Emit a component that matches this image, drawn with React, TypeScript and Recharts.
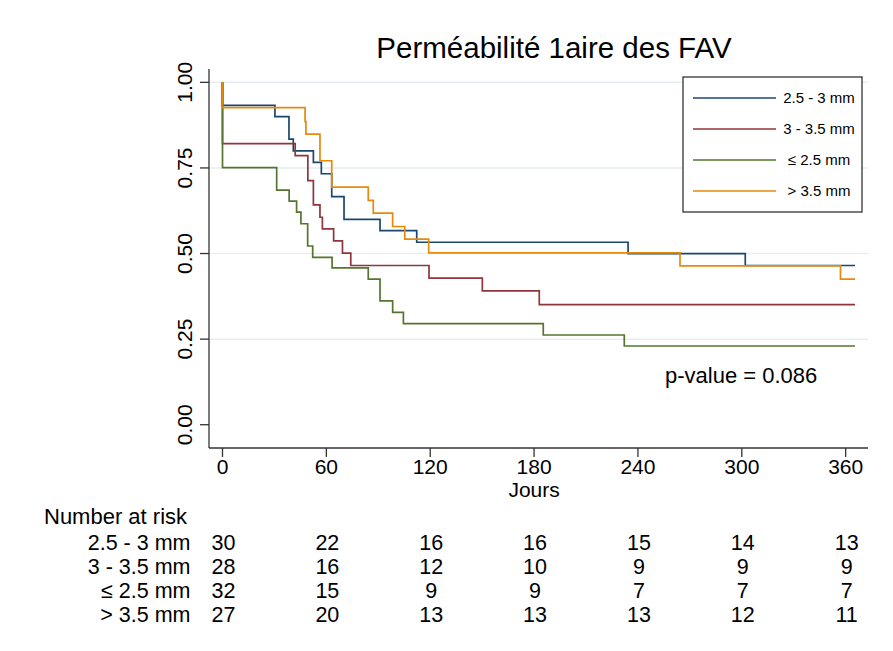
import React from 'react';
import { LineChart, Line, XAxis, YAxis, ReferenceLine } from 'recharts';

// groups (legend order)
const groupNames = ['2.5 - 3 mm', '3 - 3.5 mm', '≤ 2.5 mm', '> 3.5 mm'];
const groupColors = ['#1a476f', '#90353b', '#55752f', '#e8890c'];

// Kaplan-Meier steps (days, survival)
const daysA = [0, 0, 30.3, 38.4, 40.9, 52.5, 57.1, 63.1, 70.2, 91, 112.2, 234.3, 302, 365.4];
const survA = [1, 0.933, 0.9, 0.834, 0.8, 0.766, 0.733, 0.666, 0.6, 0.567, 0.533, 0.5, 0.465, 0.465];

const daysB = [0, 0, 42, 49.3, 52.5, 56.3, 57.7, 64.2, 69.3, 74.1, 119.3, 150.1, 183, 365.4];
const survB = [1, 0.821, 0.786, 0.713, 0.642, 0.606, 0.572, 0.537, 0.501, 0.465, 0.428, 0.391, 0.351, 0.351];

const daysC = [0, 0, 31.3, 38.5, 42.8, 45.3, 49.2, 52.1, 63.3, 84.2, 91, 98.3, 104.5, 185.3, 232.1, 365.4];
const survC = [1, 0.751, 0.685, 0.653, 0.621, 0.587, 0.522, 0.489, 0.458, 0.425, 0.362, 0.328, 0.295, 0.262, 0.23, 0.23];

const daysD = [0, 0, 47.7, 48.2, 56.3, 63.1, 84.2, 87.1, 98.3, 105.3, 119.1, 264.3, 357, 365.4];
const survD = [1, 0.926, 0.885, 0.849, 0.771, 0.694, 0.655, 0.618, 0.579, 0.542, 0.502, 0.464, 0.425, 0.425];

const xTicks = [0, 60, 120, 180, 240, 300, 360];
const yTicks = [0, 0.25, 0.5, 0.75, 1];
const gridValues = [0.25, 0.5, 0.75, 1];

// number at risk
const riskA = [30, 22, 16, 16, 15, 14, 13];
const riskB = [28, 16, 12, 10, 9, 9, 9];
const riskC = [32, 15, 9, 9, 7, 7, 7];
const riskD = [27, 20, 13, 13, 13, 12, 11];

const W = 893;
const H = 651;
const X_DOMAIN = [-7.8, 372.9];
const Y_DOMAIN = [-0.068, 1.039];
const PLOT_LEFT = 209;
const PLOT_RIGHT = 868;
const FONT = '"Liberation Sans", Arial, Helvetica, sans-serif';

const toRows = (days: number[], surv: number[]) => days.map((t, i) => ({ t, s: surv[i] }));
const series = [
  toRows(daysA, survA),
  toRows(daysB, survB),
  toRows(daysC, survC),
  toRows(daysD, survD),
];
const risks = [riskA, riskB, riskC, riskD];

const xPos = (t: number) =>
  PLOT_LEFT + ((t - X_DOMAIN[0]) / (X_DOMAIN[1] - X_DOMAIN[0])) * (PLOT_RIGHT - PLOT_LEFT);

const YTick = (props: any) => {
  const { x, y, payload } = props;
  const bx = x - 6;
  return (
    <text
      x={bx}
      y={y}
      transform={`rotate(-90, ${bx}, ${y})`}
      textAnchor="middle"
      fontSize={21}
      fontFamily={FONT}
      fill="#000"
    >
      {payload.value.toFixed(2)}
    </text>
  );
};

const XTick = (props: any) => {
  const { x, payload } = props;
  return (
    <text x={x} y={473.5} textAnchor="middle" fontSize={21} fontFamily={FONT} fill="#000">
      {payload.value}
    </text>
  );
};

export default function App() {
  const legendRows = [98, 129, 160, 191];
  const riskRows = [549.5, 573.5, 597.5, 622];
  return (
    <div style={{ position: 'absolute', left: 0, top: 0, width: W, height: H, background: '#fff' }}>
      <LineChart
        width={W}
        height={H}
        margin={{ top: 69, right: W - PLOT_RIGHT, left: PLOT_LEFT - 60, bottom: 155 }}
      >
        <XAxis
          dataKey="t"
          type="number"
          domain={X_DOMAIN}
          ticks={xTicks}
          allowDataOverflow
          height={48}
          tickSize={9}
          stroke="#333"
          strokeWidth={1.3}
          tick={<XTick />}
        />
        <YAxis
          type="number"
          domain={Y_DOMAIN}
          ticks={yTicks}
          allowDataOverflow
          width={60}
          tickSize={9}
          stroke="#333"
          strokeWidth={1.3}
          tick={<YTick />}
        />
        {gridValues.map((v) => (
          <ReferenceLine key={v} y={v} stroke="#e6eef1" strokeWidth={1.5} />
        ))}
        {series.map((rows, i) => (
          <Line
            key={groupNames[i]}
            data={rows}
            dataKey="s"
            type="stepAfter"
            stroke={groupColors[i]}
            strokeWidth={1.7}
            dot={false}
            activeDot={false}
            isAnimationActive={false}
          />
        ))}
      </LineChart>
      <svg
        width={W}
        height={H}
        style={{ position: 'absolute', left: 0, top: 0, pointerEvents: 'none' }}
        fontFamily={FONT}
      >
        <text x={554} y={58} textAnchor="middle" fontSize={29.5} fill="#000">
          Perméabilité 1aire des FAV
        </text>
        <rect x={683} y={77} width={179} height={135} fill="#fff" stroke="#333" strokeWidth={1.3} />
        {groupNames.map((g, i) => (
          <g key={g}>
            <line x1={693} x2={776} y1={legendRows[i]} y2={legendRows[i]} stroke={groupColors[i]} strokeWidth={1.7} />
            <text x={819} y={legendRows[i] + 5} textAnchor="middle" fontSize={15} fill="#000">
              {g}
            </text>
          </g>
        ))}
        <text x={665} y={383} fontSize={22} fill="#000">
          p-value = 0.086
        </text>
        <text x={xPos(180)} y={496.5} textAnchor="middle" fontSize={21} fill="#000">
          Jours
        </text>
        <text x={44} y={524} fontSize={22} fill="#000">
          Number at risk
        </text>
        {groupNames.map((g, i) => (
          <g key={g}>
            <text x={190.5} y={riskRows[i]} textAnchor="end" fontSize={21.5} fill="#000">
              {g}
            </text>
            {risks[i].map((n, j) => (
              <text key={j} x={xPos(xTicks[j]) + 1} y={riskRows[i]} textAnchor="middle" fontSize={21.5} fill="#000">
                {n}
              </text>
            ))}
          </g>
        ))}
      </svg>
    </div>
  );
}
